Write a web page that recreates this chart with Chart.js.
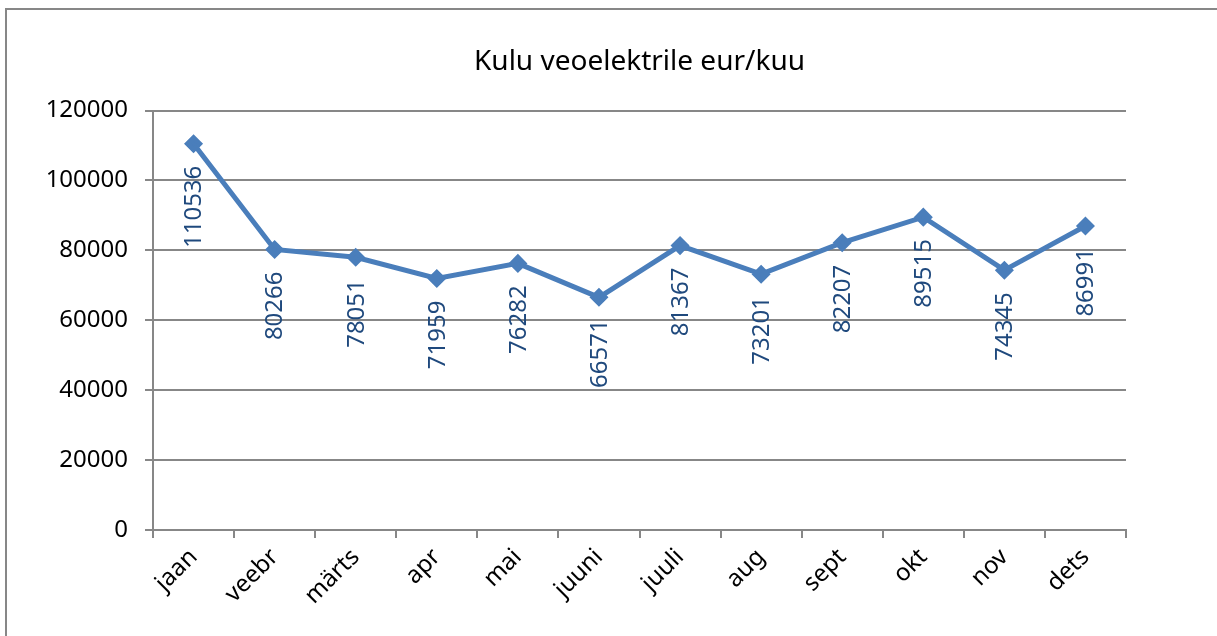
<!DOCTYPE html>
<html>
<head>
<meta charset="utf-8">
<script src="https://cdn.jsdelivr.net/npm/chart.js@4"></script>
<style>
  html, body { margin: 0; padding: 0; background: #fff; overflow: hidden; }
  #wrap { position: relative; width: 1217px; height: 636px; }
  #frame {
    position: absolute; left: 5px; top: 8px; width: 1400px; height: 800px;
    border-left: 2px solid #878787; border-top: 2px solid #878787;
  }
  canvas { position: absolute; left: 0; top: 0; }
</style>
</head>
<body>
<div id="wrap">
  <div id="frame"></div>
  <canvas id="chart" width="1217" height="636"></canvas>
</div>
<script>
const months = ["jaan", "veebr", "märts", "apr", "mai", "juuni", "juuli", "aug", "sept", "okt", "nov", "dets"];
const costs = [110536, 80266, 78051, 71959, 76282, 66571, 81367, 73201, 82207, 89515, 74345, 86991];
const yTicks = [0, 20000, 40000, 60000, 80000, 100000, 120000];

const fontFamily = "'Noto Sans', 'Open Sans', sans-serif";
const gridColor = "#878787";
const lineColor = "#4A7EBB";
const labelColor = "#1F497D";

// vertical value labels under each point, reading bottom to top
const valueLabels = {
  id: "valueLabels",
  afterDatasetsDraw(chart) {
    const ctx = chart.ctx;
    const meta = chart.getDatasetMeta(0);
    ctx.save();
    ctx.font = "24px " + fontFamily;
    ctx.fillStyle = labelColor;
    ctx.textAlign = "right";
    ctx.textBaseline = "middle";
    meta.data.forEach((pt, i) => {
      ctx.save();
      ctx.translate(pt.x + 1, pt.y + 22);
      ctx.rotate(-Math.PI / 2);
      ctx.fillText(String(costs[i]), 0, 0);
      ctx.restore();
    });
    ctx.restore();
  }
};

new Chart(document.getElementById("chart"), {
  type: "line",
  data: {
    labels: months,
    datasets: [{
      data: costs,
      borderColor: lineColor,
      backgroundColor: lineColor,
      borderWidth: 5,
      pointStyle: "rectRot",
      pointRadius: 6,
      pointBackgroundColor: lineColor,
      pointBorderColor: lineColor,
      tension: 0
    }]
  },
  options: {
    responsive: false,
    animation: false,
    layout: { padding: { left: 0, right: 91, top: 0, bottom: 0 } },
    plugins: {
      legend: { display: false },
      tooltip: { enabled: false },
      title: {
        display: true,
        fullSize: false,
        text: "Kulu veoelektrile eur/kuu",
        color: "#000",
        font: { family: fontFamily, size: 28, weight: "normal" },
        padding: { top: 45, bottom: 32 }
      }
    },
    scales: {
      x: {
        offset: true,
        grid: { display: true, offset: true, drawOnChartArea: false, drawTicks: true, tickLength: 8, color: gridColor, lineWidth: 2 },
        border: { display: true, color: gridColor, width: 2 },
        ticks: {
          color: "#000",
          font: { family: fontFamily, size: 24 },
          minRotation: 45,
          maxRotation: 45,
          padding: 5
        },
        afterFit(scale) { scale.height = 106; }
      },
      y: {
        min: 0,
        max: 120000,
        afterBuildTicks(scale) { scale.ticks = yTicks.map(v => ({ value: v })); },
        grid: { color: gridColor, lineWidth: 2, drawTicks: true, tickLength: 8 },
        border: { display: true, color: gridColor, width: 2 },
        ticks: {
          color: "#000",
          font: { family: fontFamily, size: 24 },
          padding: 17,
          callback: v => String(v)
        },
        afterFit(scale) { scale.width = 153; }
      }
    }
  },
  plugins: [valueLabels]
});
</script>
</body>
</html>
